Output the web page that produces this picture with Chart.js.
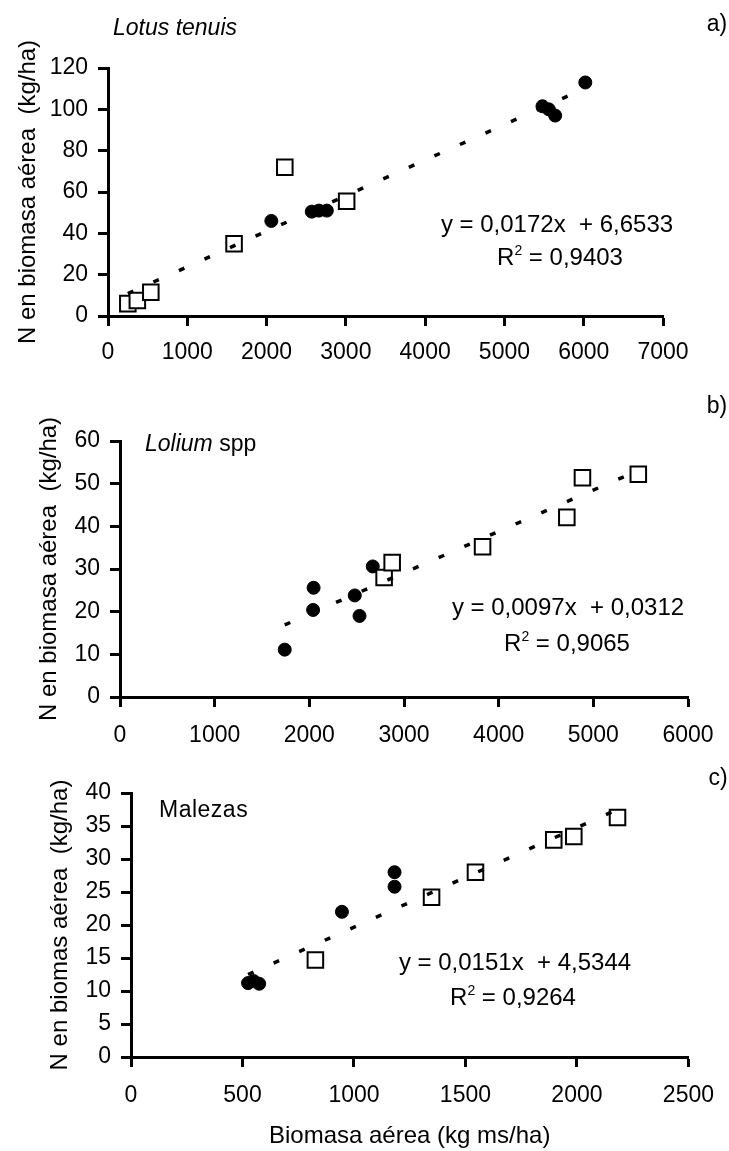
<!DOCTYPE html>
<html><head><meta charset="utf-8">
<script src="https://cdn.jsdelivr.net/npm/chart.js@4.4.1/dist/chart.umd.min.js"></script>
<style>
html,body{margin:0;padding:0;background:#fff;}
#wrap{position:relative;width:729px;height:1151px;overflow:hidden;font-family:"Liberation Sans",Arial,sans-serif;color:#000;}
.pane{position:absolute;left:0;width:729px;}
.pane canvas{display:block;}
.lbl{position:absolute;transform:translate(-50%,-50%);white-space:pre;font-size:24px;line-height:1;}
.lbl-l{position:absolute;transform:translateY(-50%);white-space:pre;font-size:23px;line-height:1;}
.sup{font-size:14px;position:relative;top:-10px;}
</style></head>
<body><div id="wrap">
<div class="pane" style="top:0;height:370px"><canvas id="ca" width="729" height="370"></canvas></div>
<div class="pane" style="top:380px;height:380px"><canvas id="cb" width="729" height="380"></canvas></div>
<div class="pane" style="top:760px;height:391px"><canvas id="cc" width="729" height="391"></canvas></div>

<div class="lbl" style="left:175px;top:27px;font-style:italic;font-size:23px">Lotus tenuis</div>
<div class="lbl" style="left:717px;top:23px;font-size:23px">a)</div>
<div class="lbl" style="left:557px;top:224px">y = 0,0172x  + 6,6533</div>
<div class="lbl" style="left:560px;top:257px">R<span class="sup">2</span> = 0,9403</div>

<div class="lbl-l" style="left:145px;top:443px"><i>Lolium</i> spp</div>
<div class="lbl" style="left:717px;top:405px;font-size:23px">b)</div>
<div class="lbl" style="left:568px;top:607px">y = 0,0097x  + 0,0312</div>
<div class="lbl" style="left:567px;top:643px">R<span class="sup">2</span> = 0,9065</div>

<div class="lbl-l" style="left:159px;top:809px;letter-spacing:0.5px">Malezas</div>
<div class="lbl" style="left:718px;top:777px;font-size:23px">c)</div>
<div class="lbl" style="left:515px;top:962px">y = 0,0151x  + 4,5344</div>
<div class="lbl" style="left:513px;top:997px">R<span class="sup">2</span> = 0,9264</div>
</div>
<script>
// ---- Panel a: Lotus tenuis ----
const aSquareX = [250, 370, 540, 1590, 2230, 3010];
const aSquareY = [6, 7.5, 11.5, 35, 72, 55.5];
const aCircleX = [2060, 2570, 2660, 2760, 5480, 5560, 5640, 6020];
const aCircleY = [46, 50.5, 51, 51, 101.5, 100, 97, 113];
const aTrendX = [250, 6020];
const aTrendY = [10.9, 110.2];
const aXTicks = [0, 1000, 2000, 3000, 4000, 5000, 6000, 7000];
const aYTicks = [0, 20, 40, 60, 80, 100, 120];

// ---- Panel b: Lolium spp ----
const bSquareX = [2790, 2875, 3830, 4720, 4885, 5475];
const bSquareY = [28, 31.5, 35.2, 42.1, 51.4, 52.2];
const bCircleX = [1740, 2040, 2045, 2480, 2530, 2670];
const bCircleY = [11.1, 20.4, 25.6, 23.8, 19, 30.6];
const bTrendX = [1740, 5475];
const bTrendY = [16.9, 53.1];
const bXTicks = [0, 1000, 2000, 3000, 4000, 5000, 6000];
const bYTicks = [0, 10, 20, 30, 40, 50, 60];

// ---- Panel c: Malezas ----
const cSquareX = [827, 1348, 1545, 1896, 1986, 2182];
const cSquareY = [14.7, 24.2, 28, 32.9, 33.4, 36.3];
const cCircleX = [525, 550, 575, 946, 1182, 1182];
const cCircleY = [11.2, 11.5, 11.1, 22, 28, 25.8];
const cTrendX = [525, 2182];
const cTrendY = [12.5, 37.5];
const cXTicks = [0, 500, 1000, 1500, 2000, 2500];
const cYTicks = [0, 5, 10, 15, 20, 25, 30, 35, 40];

const yTitleAB = 'N en biomasa aérea  (kg/ha)';
const yTitleC = 'N en biomas aérea  (kg/ha)';
const xTitleC = 'Biomasa aérea (kg ms/ha)';

const FONT = '"Liberation Sans", Arial, sans-serif';
const pts = (xs, ys) => xs.map((x, i) => ({x: x, y: ys[i]}));

function panel(id, o) {
  const gridCfg = {drawOnChartArea: false, drawTicks: true, tickLength: 10, tickWidth: 3, tickColor: '#000'};
  const borderCfg = {display: true, color: '#000', width: 3};
  new Chart(document.getElementById(id), {
    type: 'scatter',
    data: {
      datasets: [
        {data: pts(o.tx, o.ty), showLine: true, borderColor: '#000', borderWidth: 3.5,
         borderDash: [6, 22], borderCapStyle: 'butt', pointRadius: 0, order: 0, clip: false},
        {data: pts(o.sx, o.sy), pointStyle: 'rect', pointRadius: 11, pointBorderWidth: 2,
         pointBorderColor: '#000', pointBackgroundColor: '#fff', order: 1, clip: false},
        {data: pts(o.cx, o.cy), pointStyle: 'circle', pointRadius: 6.5, pointBorderWidth: 1,
         pointBorderColor: '#000', pointBackgroundColor: '#000', order: 2, clip: false}
      ]
    },
    options: {
      responsive: false, animation: false, devicePixelRatio: 1,
      layout: {padding: {left: 0, top: o.padTop, right: o.padRight, bottom: 0}},
      plugins: {legend: {display: false}, tooltip: {enabled: false}},
      scales: {
        x: {
          type: 'linear', position: 'bottom', min: o.xt[0], max: o.xt[o.xt.length - 1],
          grid: gridCfg, border: borderCfg,
          afterBuildTicks: s => { s.ticks = o.xt.map(v => ({value: v})); },
          afterFit: s => { s.height = o.xH; },
          ticks: {color: '#000', padding: o.xPad, maxRotation: 0, autoSkip: false,
                  font: {family: FONT, size: 23}, callback: v => String(v)},
          title: {display: !!o.xTitle, text: o.xTitle || '', color: '#000',
                  font: {family: FONT, size: 24}, padding: {top: 0, bottom: 0}}
        },
        y: {
          type: 'linear', position: 'left', min: o.yt[0], max: o.yt[o.yt.length - 1],
          grid: gridCfg, border: borderCfg,
          afterBuildTicks: s => { s.ticks = o.yt.map(v => ({value: v})); },
          afterFit: s => { s.width = o.yW; },
          ticks: {color: '#000', padding: 10, autoSkip: false,
                  font: {family: FONT, size: 23}, callback: v => String(v)},
          title: {display: true, text: o.yTitle, color: '#000',
                  font: {family: FONT, size: 24}, padding: {top: o.yTitlePad, bottom: 0}}
        }
      }
    }
  });
}

panel('ca', {tx: aTrendX, ty: aTrendY, sx: aSquareX, sy: aSquareY, cx: aCircleX, cy: aCircleY,
  xt: aXTicks, yt: aYTicks, padTop: 68, padRight: 66, xH: 54, yW: 108, xPad: 13,
  yTitle: yTitleAB, yTitlePad: 14});
panel('cb', {tx: bTrendX, ty: bTrendY, sx: bSquareX, sy: bSquareY, cx: bCircleX, cy: bCircleY,
  xt: bXTicks, yt: bYTicks, padTop: 61, padRight: 41, xH: 63, yW: 120, xPad: 15,
  yTitle: yTitleAB, yTitlePad: 35});
panel('cc', {tx: cTrendX, ty: cTrendY, sx: cSquareX, sy: cSquareY, cx: cCircleX, cy: cCircleY,
  xt: cXTicks, yt: cYTicks, padTop: 33, padRight: 29, xH: 94, yW: 131, xPad: 15,
  yTitle: yTitleC, yTitlePad: 46, xTitle: xTitleC});
</script>
</body></html>
